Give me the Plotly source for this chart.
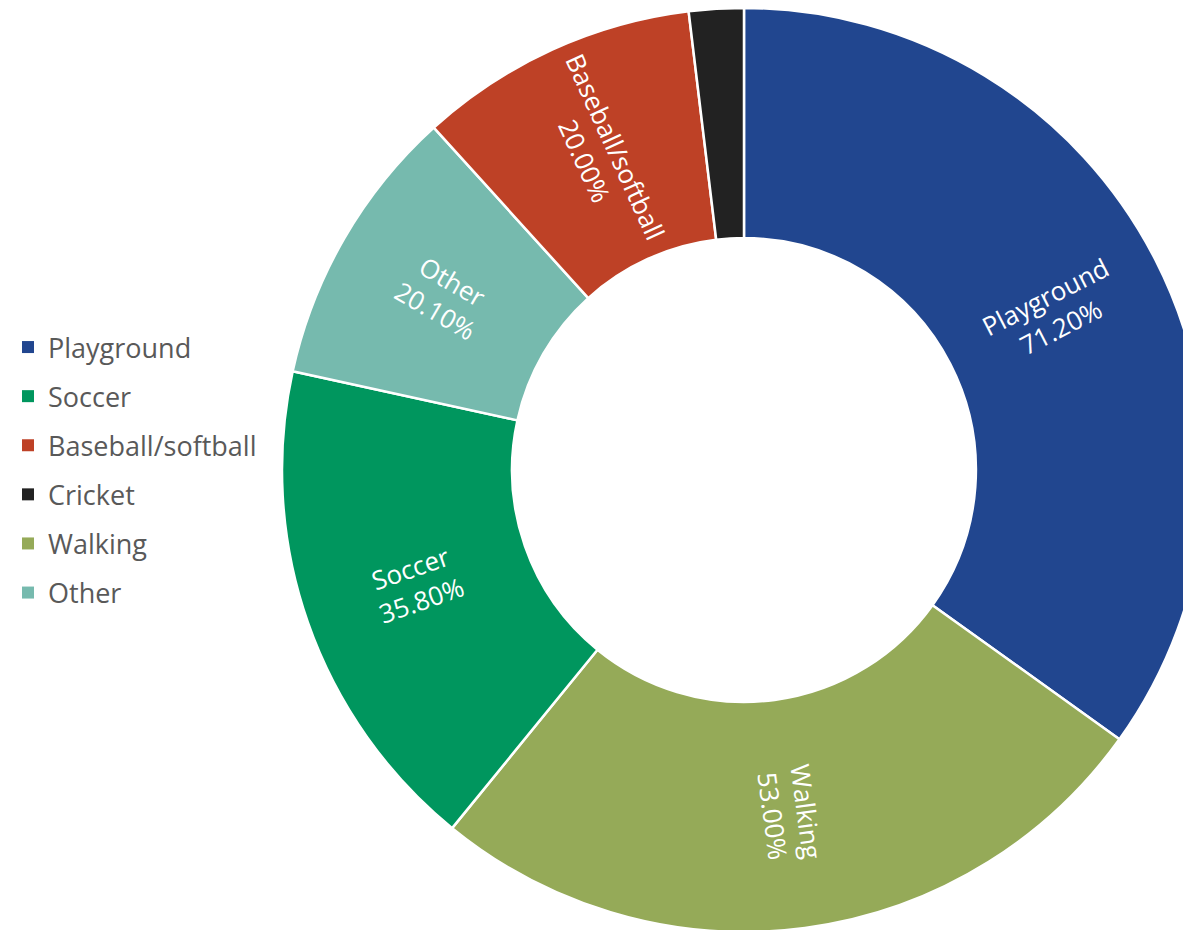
import math
import plotly.graph_objects as go

# Slice order (clockwise from 12 o'clock)
labels = ["Playground", "Walking", "Soccer", "Other", "Baseball/softball", "Cricket"]
values = [71.2, 53.0, 35.8, 20.1, 20.0, 3.9]
colors = ["#21468F", "#95AA58", "#00965E", "#76BAAE", "#BE4126", "#222222"]
show_text = [True, True, True, True, True, False]

# Legend order
legend_order = ["Playground", "Soccer", "Baseball/softball", "Cricket", "Walking", "Other"]

W, H = 1198, 924
DOM_X = [0.2287, 1.0]
DOM_Y = [0.0, 1.0]
HOLE = 0.502

color_map = dict(zip(labels, colors))

fig = go.Figure()
fig.add_trace(go.Pie(
    labels=labels,
    values=values,
    textinfo="none",
    sort=False,
    direction="clockwise",
    rotation=0,
    hole=HOLE,
    marker=dict(colors=colors, line=dict(color="white", width=2.5)),
    showlegend=False,
    domain=dict(x=DOM_X, y=DOM_Y),
))

# Radial in-slice labels placed at each slice's mid-angle (derived from the values)
pw = W * (DOM_X[1] - DOM_X[0])
ph = H * (DOM_Y[1] - DOM_Y[0])
r = min(pw, ph) / 2
cx = W * (DOM_X[0] + DOM_X[1]) / 2
cy = H * (1 - (DOM_Y[0] + DOM_Y[1]) / 2)
rl = r * (1 + HOLE) / 2
total = sum(values)
cum = 0.0
for lab, val, show in zip(labels, values, show_text):
    mid = (cum + val / 2) / total * 360.0
    cum += val
    if not show:
        continue
    th = math.radians(mid)
    px = cx + rl * math.sin(th)
    py = cy - rl * math.cos(th)
    ang = mid - 90 if mid <= 180 else mid - 270
    fig.add_annotation(
        x=px / W, y=1 - py / H, xref="paper", yref="paper",
        text=f"{lab}<br>{val:.2f}%", showarrow=False, textangle=ang,
        xanchor="center", yanchor="middle", align="center",
        font=dict(family="Open Sans", size=26, color="white"),
    )

for name in legend_order:
    fig.add_trace(go.Scatter(
        x=[None], y=[None], mode="markers", name=name, legendgroup=name,
        marker=dict(symbol="square", size=14, color=color_map[name]),
    ))

fig.update_layout(
    width=W, height=H,
    margin=dict(l=0, r=0, t=0, b=0),
    paper_bgcolor="white", plot_bgcolor="white",
    xaxis=dict(visible=False), yaxis=dict(visible=False),
    legend=dict(
        x=0.0, y=0.5, xanchor="left", yanchor="middle",
        font=dict(family="Open Sans", size=27, color="#595959"),
        itemsizing="constant", traceorder="grouped", tracegroupgap=11,
        bgcolor="rgba(0,0,0,0)",
    ),
)

fig.write_html("out.html")
